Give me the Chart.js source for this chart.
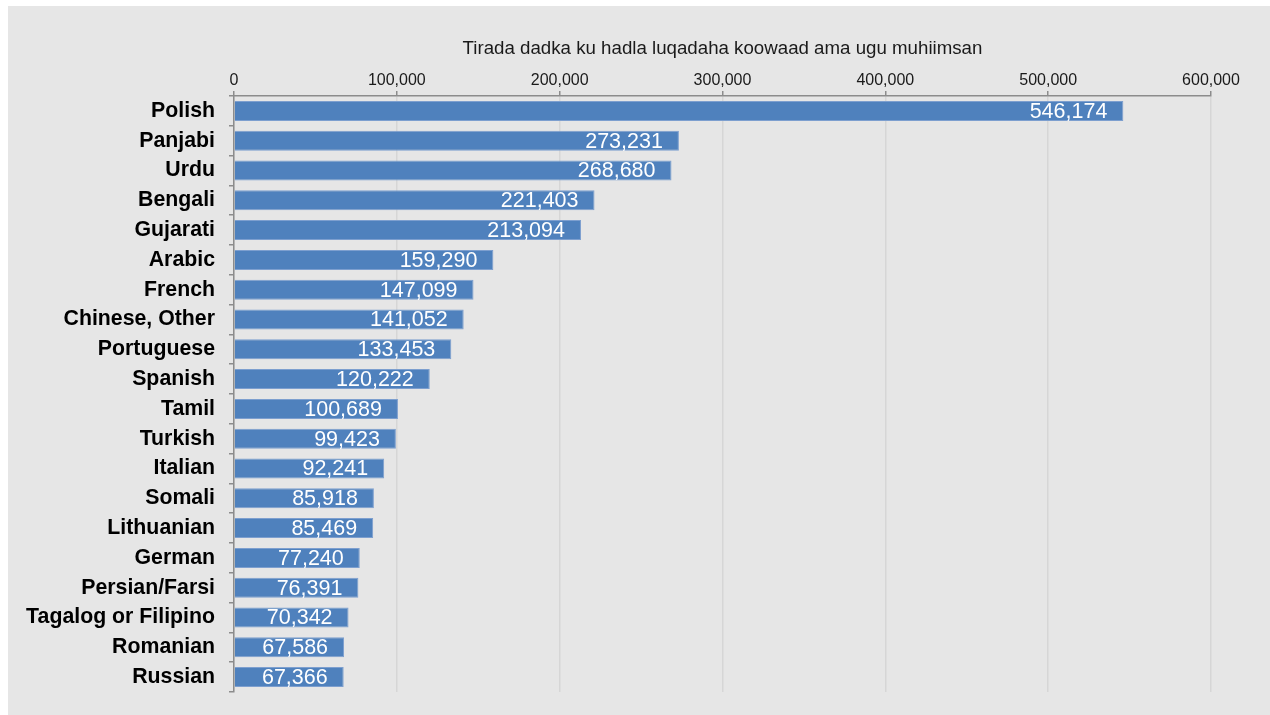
<!DOCTYPE html>
<html>
<head>
<meta charset="utf-8">
<script src="https://cdn.jsdelivr.net/npm/chart.js@4/dist/chart.umd.min.js"></script>
<style>
  html, body { margin: 0; padding: 0; background: #fff; }
  #wrap { width: 1270px; height: 715px; }
</style>
</head>
<body>
<div id="wrap"><canvas id="langChart" width="1270" height="715"></canvas></div>
<script>
// languages and speaker counts
const languages = ['Polish', 'Panjabi', 'Urdu', 'Bengali', 'Gujarati', 'Arabic', 'French',
    'Chinese, Other', 'Portuguese', 'Spanish', 'Tamil', 'Turkish', 'Italian', 'Somali',
    'Lithuanian', 'German', 'Persian/Farsi', 'Tagalog or Filipino', 'Romanian', 'Russian'];
const speakers = [546174, 273231, 268680, 221403, 213094, 159290, 147099, 141052, 133453, 120222,
    100689, 99423, 92241, 85918, 85469, 77240, 76391, 70342, 67586, 67366];
const tickValues = [0, 100000, 200000, 300000, 400000, 500000, 600000];
const axisTitle = 'Tirada dadka ku hadla luqadaha koowaad ama ugu muhiimsan';

const fmt = n => n.toLocaleString('en-US');

// grey panel behind everything
const panelBg = {
    id: 'panelBg',
    beforeDraw(chart) {
        const c = chart.ctx;
        c.save();
        c.fillStyle = '#ffffff';
        c.fillRect(0, 0, chart.width, chart.height);
        c.fillStyle = '#e6e6e6';
        c.fillRect(8, 6, chart.width - 8, chart.height - 6);
        c.restore();
    }
};

// white value labels near the end of each bar
const valueLabels = {
    id: 'valueLabels',
    afterDatasetsDraw(chart) {
        const c = chart.ctx;
        const meta = chart.getDatasetMeta(0);
        c.save();
        c.font = '21.5px "Liberation Sans", Arial, sans-serif';
        c.fillStyle = '#ffffff';
        c.textAlign = 'right';
        c.textBaseline = 'middle';
        meta.data.forEach((bar, i) => {
            c.fillText(fmt(speakers[i]), bar.x - 16, bar.y + 1);
        });
        c.restore();
    }
};

new Chart(document.getElementById('langChart'), {
    type: 'bar',
    data: {
        labels: languages,
        datasets: [{
            data: speakers,
            backgroundColor: '#4f81bd',
            borderColor: '#7d9fcf',
            borderWidth: 1,
            barPercentage: 0.67,
            categoryPercentage: 1
        }]
    },
    options: {
        indexAxis: 'y',
        responsive: false,
        animation: false,
        layout: { padding: { top: 0, right: 59, bottom: 23, left: 0 } },
        plugins: {
            legend: { display: false },
            tooltip: { enabled: false }
        },
        scales: {
            x: {
                position: 'top',
                min: 0,
                max: 600000,
                afterFit(scale) { scale.height = 96; },
                afterBuildTicks(scale) { scale.ticks = tickValues.map(v => ({ value: v })); },
                ticks: {
                    color: '#1a1a1a',
                    font: { family: '"Liberation Sans", Arial, sans-serif', size: 16 },
                    padding: 1,
                    maxRotation: 0,
                    callback: v => fmt(v)
                },
                grid: {
                    color: '#d6d6d6',
                    lineWidth: 1.5,
                    tickColor: '#8c8c8c',
                    tickLength: 5
                },
                border: { color: '#8c8c8c', width: 1.5 },
                title: {
                    display: true,
                    text: axisTitle,
                    color: '#1a1a1a',
                    font: { family: '"Liberation Sans", Arial, sans-serif', size: 18.7 },
                    padding: { top: 38, bottom: 0 }
                }
            },
            y: {
                afterFit(scale) {
                    scale.width = 234;
                    scale.paddingTop = 0;
                    scale.paddingBottom = 0;
                },
                ticks: {
                    color: '#000000',
                    font: { family: '"Liberation Sans", Arial, sans-serif', size: 21.3, weight: 'bold' },
                    padding: 14
                },
                grid: {
                    offset: true,
                    drawOnChartArea: false,
                    tickColor: '#8c8c8c',
                    tickLength: 5,
                    lineWidth: 1.5
                },
                border: { color: '#8c8c8c', width: 1.5 }
            }
        }
    },
    plugins: [panelBg, valueLabels]
});
</script>
</body>
</html>
